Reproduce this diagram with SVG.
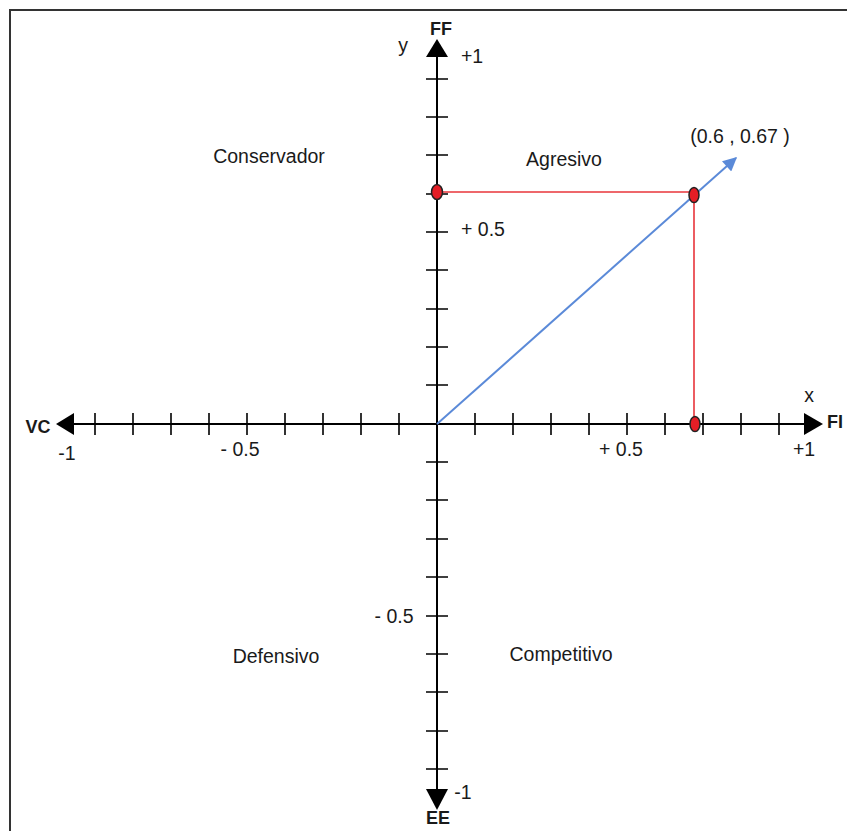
<svg xmlns="http://www.w3.org/2000/svg" width="847" height="831" viewBox="0 0 847 831">
<style>
text{font-family:"Liberation Sans",Arial,sans-serif;fill:#1a1a1a}
.lbl{font-size:19.5px}
.b{font-weight:bold;font-size:18px}
.ax{stroke:#000;stroke-width:2;fill:none}
.tk{stroke:#000;stroke-width:1.6}
.red{stroke:#e8343a;stroke-width:1.6;fill:none}
.dot{fill:#e41e26;stroke:#222;stroke-width:1.5}
</style>
<defs>
<marker id="bl" viewBox="0 0 10 10" refX="9" refY="5" markerWidth="8" markerHeight="7" markerUnits="strokeWidth" orient="auto">
<path d="M0,0 L10,5 L0,10 z" fill="#5b8ad8"/>
</marker>
</defs>
<rect x="10" y="10" width="900" height="900" fill="#fff" stroke="#333" stroke-width="2"/>
<g id="axes">
<line class="ax" x1="73" y1="424" x2="805" y2="424"/>
<line class="ax" x1="437" y1="55" x2="437" y2="790"/>
<polygon points="56,424 74,413 74,435" fill="#000"/>
<polygon points="823,424 804,413 804,435" fill="#000"/>
<polygon points="437,39 426,57 448,57" fill="#000"/>
<polygon points="437,810 426,789 448,789" fill="#000"/>
<path class="tk" d="M95,413v22M133,413v22M171,413v22M209,413v22M247,413v22M285,413v22M323,413v22M361,413v22M399,413v22M475,413v22M513,413v22M551,413v22M589,413v22M627,413v22M665,413v22M703,413v22M741,413v22M779,413v22"/>
<path class="tk" d="M426,79h22M426,117h22M426,155h22M426,194h22M426,232h22M426,270h22M426,309h22M426,347h22M426,385h22M426,462h22M426,500h22M426,539h22M426,577h22M426,616h22M426,654h22M426,692h22M426,731h22M426,769h22"/>
</g>
<g id="connectors">
<line class="red" x1="437" y1="192" x2="694" y2="192"/>
<line class="red" x1="694" y1="192" x2="694" y2="424"/>
<line x1="437" y1="424" x2="736" y2="158" stroke="#5b8ad8" stroke-width="2" marker-end="url(#bl)"/>
</g>
<g id="points">
<ellipse class="dot" cx="437" cy="192" rx="5.5" ry="7.5"/>
<ellipse class="dot" cx="694" cy="195" rx="5" ry="7.5"/>
<ellipse class="dot" cx="695" cy="424" rx="5" ry="7.5"/>
</g>
<g id="labels">
<text class="b" x="441" y="35" text-anchor="middle">FF</text>
<text class="b" x="38" y="433" text-anchor="middle">VC</text>
<text class="b" x="835" y="428" text-anchor="middle">FI</text>
<text class="b" x="438" y="824" text-anchor="middle">EE</text>
<text class="lbl" x="403" y="52" text-anchor="middle">y</text>
<text class="lbl" x="809" y="402" text-anchor="middle">x</text>
<text class="lbl" x="472" y="63" text-anchor="middle">+1</text>
<text class="lbl" x="67" y="460" text-anchor="middle">-1</text>
<text class="lbl" x="804" y="456" text-anchor="middle">+1</text>
<text class="lbl" x="463" y="799" text-anchor="middle">-1</text>
<text class="lbl" x="483" y="236" text-anchor="middle">+ 0.5</text>
<text class="lbl" x="394" y="623" text-anchor="middle">- 0.5</text>
<text class="lbl" x="240" y="456" text-anchor="middle">- 0.5</text>
<text class="lbl" x="621" y="456" text-anchor="middle">+ 0.5</text>
<text class="lbl" x="740" y="143" text-anchor="middle">(0.6 , 0.67 )</text>
<text class="lbl" x="269" y="163" text-anchor="middle">Conservador</text>
<text class="lbl" x="564" y="166" text-anchor="middle">Agresivo</text>
<text class="lbl" x="276" y="663" text-anchor="middle">Defensivo</text>
<text class="lbl" x="561" y="661" text-anchor="middle">Competitivo</text>
</g>
</svg>
